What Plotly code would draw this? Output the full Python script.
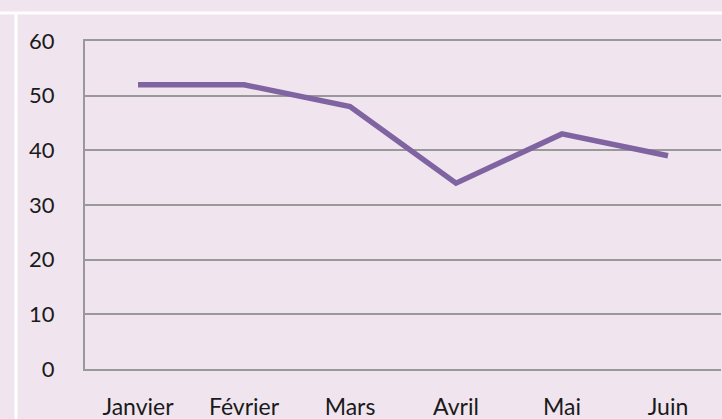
import plotly.graph_objects as go

months = ["Janvier", "Février", "Mars", "Avril", "Mai", "Juin"]
values = [52, 52, 48, 34, 43, 39]
y_ticks = [0, 10, 20, 30, 40, 50, 60]

bg = "#F0E5EF"
grid = "#999999"

fig = go.Figure()
fig.add_trace(go.Scatter(
    x=list(range(len(months))), y=values, mode="lines",
    line=dict(color="#8064A2", width=5.5),
    hoverinfo="skip", showlegend=False,
))

fig.update_layout(
    width=722, height=419,
    margin=dict(l=85, r=1, t=41, b=50, autoexpand=False),
    paper_bgcolor=bg, plot_bgcolor=bg,
    font=dict(family="Lato, 'Open Sans', sans-serif", size=22, color="#1a1a1a"),
    xaxis=dict(
        tickmode="array", tickvals=list(range(len(months))), ticktext=months,
        range=[-0.5, len(months) - 0.5], showgrid=False, zeroline=False,
        showline=True, mirror=True, linecolor=grid, linewidth=2, ticks="",
        ticklabelstandoff=16, tickfont=dict(size=23),
        automargin=False, fixedrange=True,
    ),
    yaxis=dict(
        range=[0, 60], tickvals=y_ticks, showgrid=True, gridcolor=grid, gridwidth=2,
        zeroline=False, showline=True, linecolor=grid, linewidth=2, ticks="",
        ticklabelstandoff=24, tickfont=dict(size=22),
        automargin=False, fixedrange=True,
    ),
    shapes=[
        dict(type="line", xref="paper", yref="paper", x0=-85/636, x1=1.05,
             y0=1 + 28/328, y1=1 + 28/328, line=dict(color="white", width=3)),
        dict(type="line", xref="paper", yref="paper", x0=-69/636, x1=-69/636,
             y0=1 + 28/328, y1=-0.3, line=dict(color="white", width=3)),
    ],
)

fig.write_html(
    "out.html",
    config={"displayModeBar": False, "staticPlot": True},
    post_script="document.body.style.margin='0';document.body.style.overflow='hidden';",
)
